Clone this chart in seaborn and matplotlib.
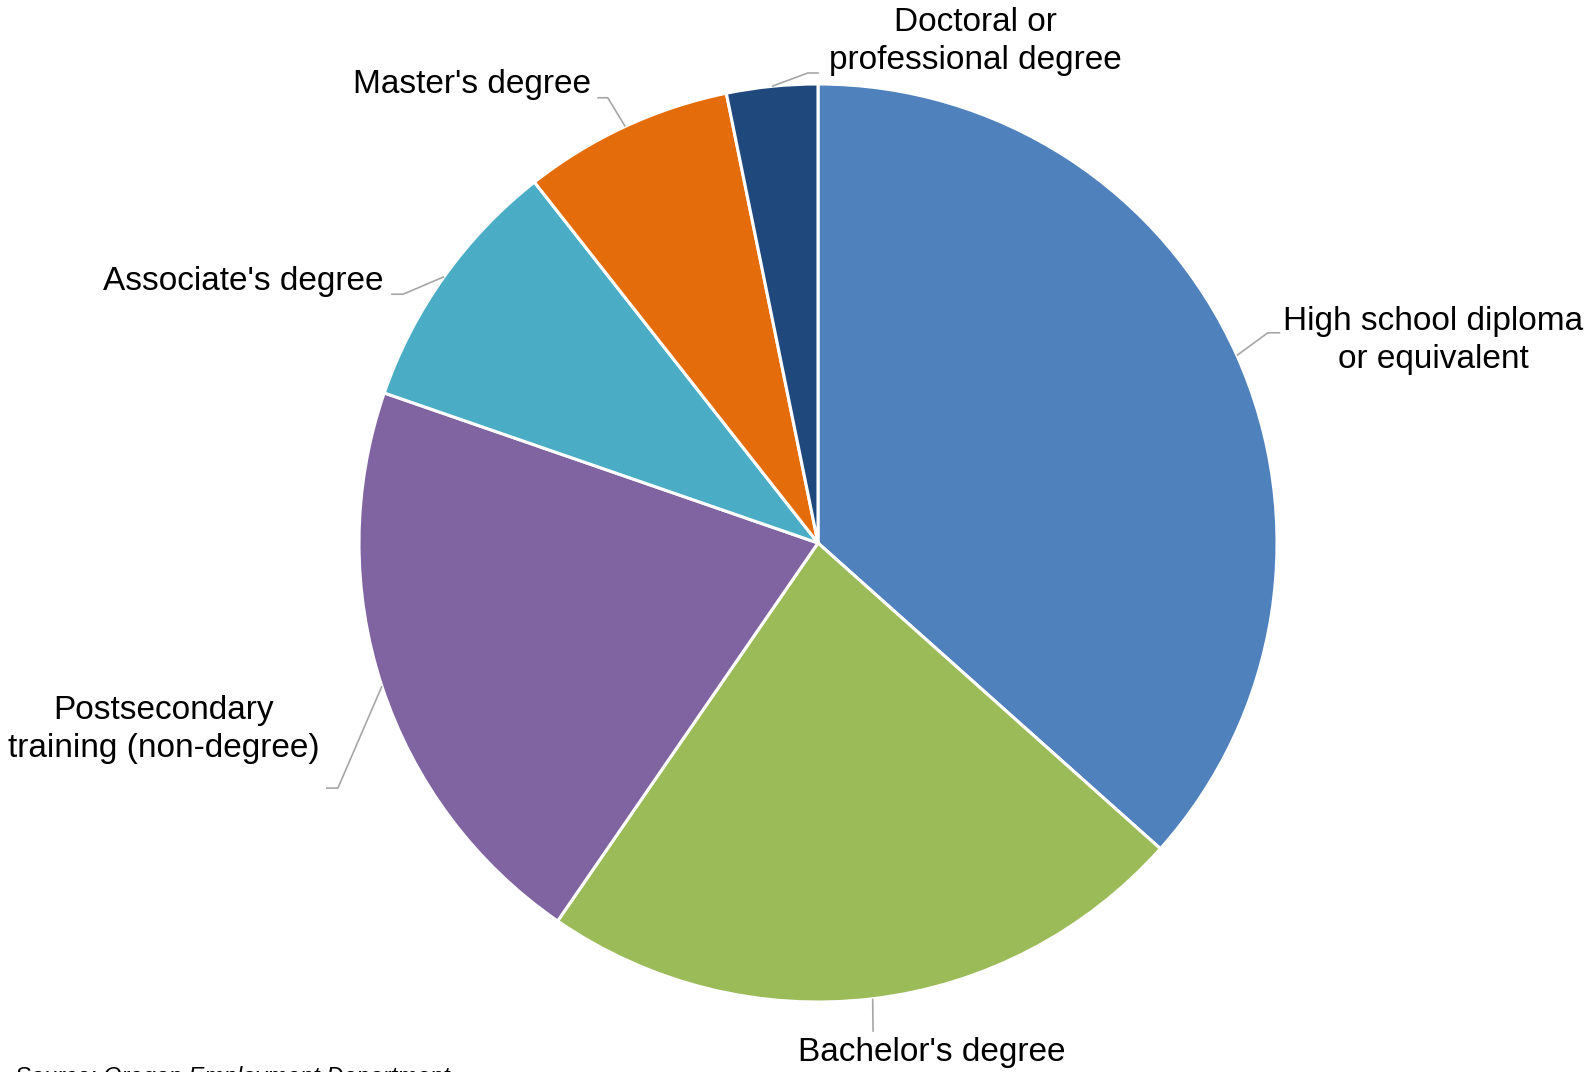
import numpy as np
import seaborn as sns
import matplotlib.pyplot as plt

# education level shares (percent), clockwise from 12 o'clock
categories = [
    "High school diploma\nor equivalent",
    "Bachelor's degree",
    "Postsecondary\ntraining (non-degree)",
    "Associate's degree",
    "Master's degree",
    "Doctoral or\nprofessional degree",
]
shares = [36.6, 23.0, 20.7, 9.1, 7.4, 3.2]
colors = ["#4F81BD", "#9BBB59", "#8064A2", "#4BACC6", "#E46C0A", "#1F497D"]

# label layout: text x, text y, ha, elbow x, elbow y, end x (data units, radius = 1)
layout = [
    (1.340, 0.441, "center", 0.980, 0.458, 1.007),
    (0.248, -1.111, "center", 0.120, -1.065, 0.120),
    (-1.425, -0.407, "center", -1.046, -0.534, -1.072),
    (-0.946, 0.569, "right", -0.904, 0.542, -0.930),
    (-0.495, 0.998, "right", -0.458, 0.970, -0.481),
    (0.342, 1.093, "center", -0.022, 1.024, 0.002),
]

sns.set_theme(style="white")
plt.rcParams["font.family"] = ["Liberation Sans", "DejaVu Sans"]

fig = plt.figure(figsize=(15.9, 10.72), dpi=100)
ax = fig.add_axes([0, 0, 1, 1])

wedges, _ = ax.pie(shares, colors=colors, startangle=90, counterclock=False,
                   wedgeprops=dict(edgecolor="white", linewidth=2.2))

cx, cy, R = 818, 543, 459
ax.set_xlim(-cx / R, (1590 - cx) / R)
ax.set_ylim(-(1072 - cy) / R, cy / R)
ax.set_aspect("auto")
ax.axis("off")

for w, lab, (tx, ty, ha, ex, ey, endx) in zip(wedges, categories, layout):
    mid = np.deg2rad((w.theta1 + w.theta2) / 2)
    px, py = np.cos(mid), np.sin(mid)
    ax.plot([px, ex, endx], [py, ey, ey], color="#A6A6A6", lw=1.2,
            solid_capstyle="butt")
    ax.text(tx, ty, lab, ha=ha, va="center", fontsize=24, color="black",
            linespacing=1.3)

fig.text(15 / 1590, 1 - 1066 / 1072, "Source: Oregon Employment Department",
         ha="left", va="top", fontsize=17, style="italic", color="black")

fig.savefig("out.png", dpi=100)
